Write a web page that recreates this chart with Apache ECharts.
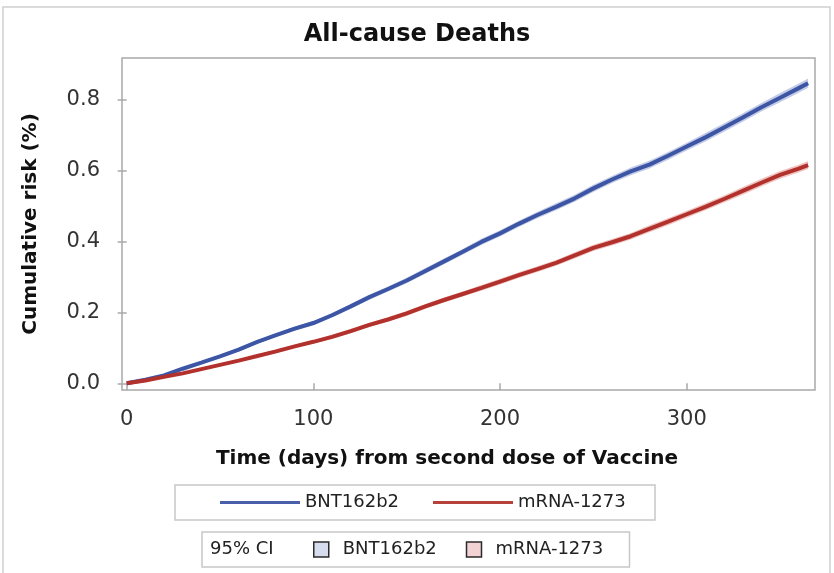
<!DOCTYPE html>
<html>
<head>
<meta charset="utf-8">
<script src="https://cdn.jsdelivr.net/npm/echarts@6/dist/echarts.min.js"></script>
<style>
  html, body { margin: 0; padding: 0; background: #fff; }
  #chart { width: 834px; height: 573px; }
</style>
</head>
<body>
<div id="chart"></div>
<script>
// ---- data ----
const days = [0,10,20,30,40,50,60,70,80,90,100,110,120,130,140,150,160,170,180,190,200,210,220,230,240,250,260,270,280,290,300,310,320,330,340,350,360,365];
const bnt  = [0,0.010,0.022,0.041,0.058,0.076,0.095,0.117,0.136,0.154,0.170,0.192,0.217,0.243,0.266,0.290,0.317,0.344,0.371,0.399,0.423,0.450,0.475,0.498,0.522,0.550,0.575,0.598,0.617,0.642,0.668,0.694,0.722,0.750,0.779,0.806,0.833,0.847];
const mrna = [0,0.008,0.018,0.028,0.040,0.052,0.064,0.077,0.090,0.104,0.117,0.131,0.147,0.165,0.180,0.197,0.217,0.235,0.252,0.269,0.287,0.305,0.322,0.340,0.361,0.382,0.398,0.415,0.436,0.456,0.477,0.498,0.520,0.543,0.566,0.588,0.606,0.616];
const bntCIHalf  = [0,0.002,0.003,0.003,0.004,0.004,0.005,0.005,0.005,0.006,0.006,0.006,0.007,0.007,0.007,0.008,0.008,0.008,0.008,0.009,0.009,0.009,0.009,0.010,0.010,0.010,0.010,0.011,0.011,0.011,0.011,0.012,0.012,0.012,0.012,0.013,0.013,0.013];
const mrnaCIHalf = [0,0.002,0.002,0.003,0.003,0.004,0.004,0.004,0.005,0.005,0.005,0.006,0.006,0.006,0.006,0.007,0.007,0.007,0.007,0.008,0.008,0.008,0.008,0.008,0.009,0.009,0.009,0.009,0.010,0.010,0.010,0.010,0.010,0.011,0.011,0.011,0.011,0.011];
const xTicks = [0, 100, 200, 300];
const yTicks = [0, 0.2, 0.4, 0.6, 0.8];
const seriesNames = ['BNT162b2', 'mRNA-1273'];
const ciNames = ['BNT162b2 95% CI', 'mRNA-1273 95% CI'];

const BLUE = '#3c55a4', RED = '#b3312c';
const BLUE_CI = '#c3cbe7', RED_CI = '#eec4c1';
const FONT = 'DejaVu Sans';

const pairs = (vals) => days.map((d, i) => [d, vals[i]]);

function bandSeries(name, vals, hw, fill) {
  return {
    name: name, type: 'custom', data: [[days[0], vals[0]]],
    encode: { x: 0, y: 1 }, silent: true, z: 1, clip: true,
    itemStyle: { color: fill },
    renderItem: function (params, api) {
      const up = days.map((d, i) => api.coord([d, vals[i] + hw[i]]));
      const lo = days.map((d, i) => api.coord([d, vals[i] - hw[i]])).reverse();
      return { type: 'polygon', shape: { points: up.concat(lo) }, style: { fill: fill } };
    }
  };
}

const chart = echarts.init(document.getElementById('chart'), null, { renderer: 'canvas' });
chart.setOption({
  animation: false,
  backgroundColor: '#fff',
  title: {
    text: 'All-cause Deaths',
    left: 'center', top: 23, padding: 0,
    textStyle: { fontFamily: FONT, fontWeight: 'bold', fontSize: 24, lineHeight: 24, color: '#111' }
  },
  grid: {
    left: 122, top: 58, right: 19, bottom: 183,
    show: true, borderColor: '#a9a9a9', borderWidth: 1.5, backgroundColor: '#fff'
  },
  xAxis: {
    type: 'value', min: -2.5, max: 368.7, offset: 3,
    name: 'Time (days) from second dose of Vaccine',
    nameLocation: 'middle', nameGap: 54,
    nameTextStyle: { fontFamily: FONT, fontWeight: 'bold', fontSize: 20, lineHeight: 24, color: '#111', padding: [0, 43, 0, 0] },
    axisLine: { show: false },
    axisTick: { show: true, length: 7, customValues: xTicks, lineStyle: { color: '#a9a9a9', width: 1.5 } },
    axisLabel: { customValues: xTicks, margin: 16, fontFamily: FONT, fontSize: 21, color: '#333' },
    splitLine: { show: false }
  },
  yAxis: {
    type: 'value', min: -0.019, max: 0.918, offset: 3,
    name: 'Cumulative risk (%)',
    nameLocation: 'middle', nameGap: 76, nameRotate: 90,
    nameTextStyle: { fontFamily: FONT, fontWeight: 'bold', fontSize: 20, lineHeight: 24, color: '#111' },
    axisLine: { show: false },
    axisTick: { show: true, length: 9, customValues: yTicks, lineStyle: { color: '#a9a9a9', width: 1.5 } },
    axisLabel: { customValues: yTicks, margin: 19, fontFamily: FONT, fontSize: 21, color: '#333',
      formatter: (v) => v.toFixed(1) },
    splitLine: { show: false }
  },
  legend: [
    {
      data: [
        { name: seriesNames[0], icon: 'rect', itemStyle: { color: '#4a5fa9' } },
        { name: seriesNames[1], icon: 'rect', itemStyle: { color: '#b6423b' } }
      ],
      left: 175, top: 485, orient: 'horizontal',
      itemWidth: 80, itemHeight: 3, itemGap: 10,
      padding: [7, 19, 7, 45],
      borderColor: '#c8c8c8', borderWidth: 1.5, borderRadius: 0,
      textStyle: { fontFamily: FONT, fontSize: 18, color: '#222', lineHeight: 21,
        rich: { a: { width: 118, fontFamily: FONT, fontSize: 18, color: '#222', lineHeight: 21 } } },
      formatter: (name) => '{a|' + name + '}',
      selectedMode: false
    },
    {
      data: [
        { name: ciNames[0], icon: 'rect', itemStyle: { color: '#d6ddef', borderColor: '#2a2a2a', borderWidth: 1.5 } },
        { name: ciNames[1], icon: 'rect', itemStyle: { color: '#f2d2d2', borderColor: '#2a2a2a', borderWidth: 1.5 } }
      ],
      left: 202, top: 532, orient: 'horizontal',
      itemWidth: 15, itemHeight: 15, itemGap: 10,
      padding: [7, 21, 7, 111],
      borderColor: '#c8c8c8', borderWidth: 1.5, borderRadius: 0,
      textStyle: { fontFamily: FONT, fontSize: 18, color: '#222', lineHeight: 21,
        rich: { a: { width: 113, padding: [0, 0, 0, 9], fontFamily: FONT, fontSize: 18, color: '#222', lineHeight: 21 } } },
      formatter: (name) => '{a|' + seriesNames[ciNames.indexOf(name)] + '}',
      selectedMode: false
    }
  ],
  graphic: [
    { type: 'rect', shape: { x: 3, y: 7, width: 827, height: 580 }, silent: true, z: -10,
      style: { fill: 'none', stroke: '#cfcfcf', lineWidth: 1.5 } },
    { type: 'text', x: 210, y: 549.5, silent: true,
      style: { text: '95% CI', fontFamily: FONT, fontSize: 18, fill: '#222', align: 'left', verticalAlign: 'middle' } }
  ],
  series: [
    bandSeries(ciNames[0], bnt, bntCIHalf, BLUE_CI),
    bandSeries(ciNames[1], mrna, mrnaCIHalf, RED_CI),
    { name: seriesNames[0], type: 'line', data: pairs(bnt), showSymbol: false,
      lineStyle: { color: BLUE, width: 4 }, itemStyle: { color: BLUE }, z: 3 },
    { name: seriesNames[1], type: 'line', data: pairs(mrna), showSymbol: false,
      lineStyle: { color: RED, width: 4 }, itemStyle: { color: RED }, z: 3 }
  ]
});
</script>
</body>
</html>
